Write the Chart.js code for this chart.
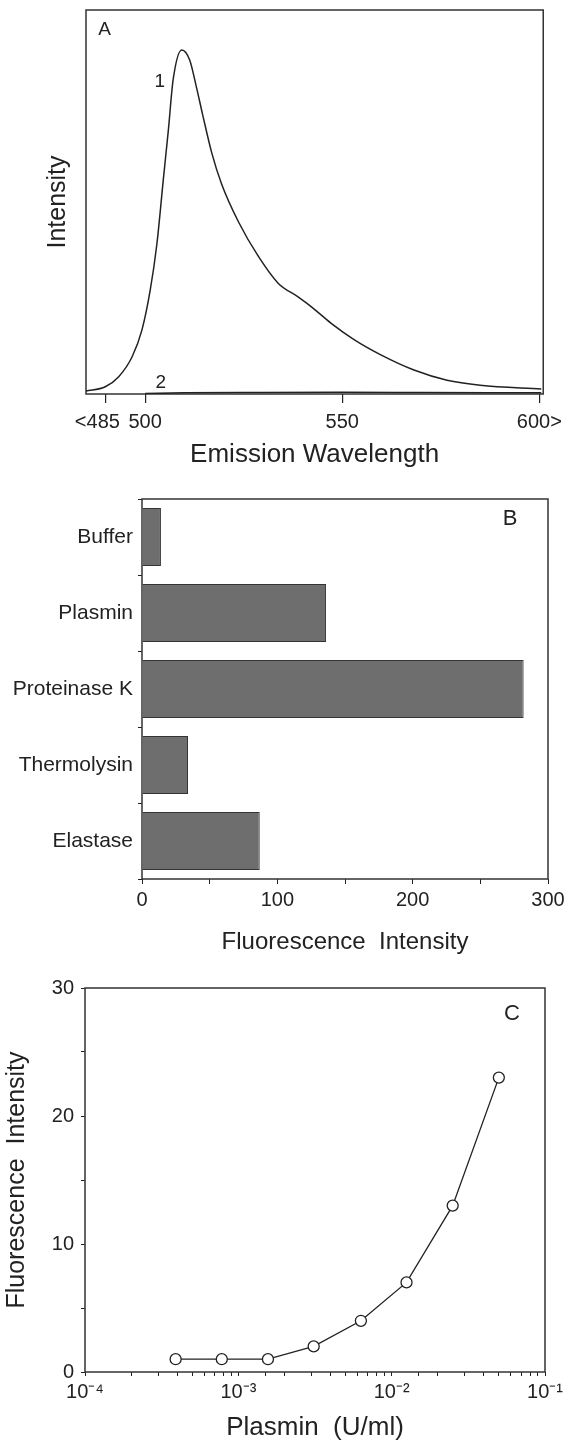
<!DOCTYPE html>
<html>
<head>
<meta charset="utf-8">
<script src="https://cdn.jsdelivr.net/npm/chart.js@4.4.1/dist/chart.umd.min.js"></script>
<style>
  body { margin: 0; background: #fff; }
  .wrap { position: relative; width: 569px; height: 1441px; }
  canvas { position: absolute; left: 0; }
</style>
</head>
<body>
<div class="wrap">
  <canvas id="chartA" width="569" height="480" style="top:0"></canvas>
  <canvas id="chartB" width="569" height="480" style="top:480px"></canvas>
  <canvas id="chartC" width="569" height="481" style="top:960px"></canvas>
</div>
<script>
// panel A - emission spectra
const waveTicks = [490, 500, 550, 600];
const waveTickLabels = ['<485   ', '500', '550', '600>'];
const wave1 = [485, 489.9, 493.3, 496.7, 499.2, 501.3, 503, 504.6, 505.9, 507.1, 509.3, 511.3, 513, 514.6, 516.9, 519.4, 523.7, 528.7, 533.8, 538.8, 542.2, 547.2, 553.1, 559.8, 568.2, 576.6, 585, 600.5];
const intensity1 = [0.8, 1.9, 4.5, 9.7, 16.7, 27.1, 39.2, 55.7, 68.8, 81.8, 89.6, 87, 80, 72.7, 62.8, 54.7, 44.8, 35.9, 28.8, 25.3, 22.7, 18.4, 14.1, 10.2, 6.25, 3.6, 2.3, 1.3];
const wave2 = [500, 510, 530, 550, 570, 600.5];
const intensity2 = [0.1, 0.3, 0.4, 0.45, 0.4, 0.3];

// panel B - proteases
const enzymes = ['Buffer', 'Plasmin', 'Proteinase K', 'Thermolysin', 'Elastase'];
const enzymeFluor = [14, 136, 282, 34, 87];

// panel C - plasmin dose response
const plasminDose = [0.00039, 0.00078, 0.00156, 0.0031, 0.0063, 0.0125, 0.025, 0.05];
const plasminFluor = [1, 1, 1, 2, 4, 7, 13, 23];

const FONT = "'Liberation Sans', Arial, Helvetica, sans-serif";
const INK = '#222';
Chart.defaults.font.family = FONT;
Chart.defaults.color = INK;

const framePlugin = {
  id: 'frame',
  beforeDatasetsDraw(chart) {
    const { ctx, chartArea: a } = chart;
    ctx.save();
    ctx.strokeStyle = '#333';
    ctx.lineWidth = 1.5;
    ctx.strokeRect(a.left, a.top, a.right - a.left, a.bottom - a.top);
    ctx.restore();
  }
};

const textPlugin = {
  id: 'panelText',
  afterDatasetsDraw(chart, args, opts) {
    const ctx = chart.ctx;
    ctx.save();
    ctx.fillStyle = INK;
    ctx.textAlign = 'center';
    ctx.textBaseline = 'middle';
    (opts.items || []).forEach(it => {
      ctx.font = it.size + 'px ' + FONT;
      ctx.fillText(it.text, chart.scales.x.getPixelForValue(it.x), chart.scales.y.getPixelForValue(it.y));
    });
    ctx.restore();
  }
};

const toPoints = (xs, ys) => xs.map((x, i) => ({ x: x, y: ys[i] }));

new Chart(document.getElementById('chartA'), {
  type: 'line',
  data: {
    datasets: [
      { data: toPoints(wave1, intensity1), borderColor: INK, borderWidth: 1.5, pointRadius: 0, cubicInterpolationMode: 'monotone' },
      { data: toPoints(wave2, intensity2), borderColor: INK, borderWidth: 1.5, pointRadius: 0, cubicInterpolationMode: 'monotone' }
    ]
  },
  options: {
    responsive: false,
    animation: false,
    devicePixelRatio: 1,
    layout: { padding: { top: 10, right: 21, left: 0, bottom: 0 } },
    plugins: {
      legend: { display: false },
      tooltip: { enabled: false },
      panelText: { items: [
        { text: 'A', x: 489.7, y: 94.8, size: 19 },
        { text: '1', x: 503.7, y: 81.3, size: 19 },
        { text: '2', x: 504, y: 2.8, size: 19 }
      ] }
    },
    scales: {
      x: {
        type: 'linear', min: 485, max: 601,
        afterBuildTicks: s => { s.ticks = waveTicks.map(v => ({ value: v })); },
        afterFit: s => { s.height = 86; },
        border: { display: false },
        grid: { drawOnChartArea: false, tickLength: 9, color: INK, lineWidth: 1.2 },
        ticks: { font: { size: 20 }, padding: 7, maxRotation: 0, autoSkip: false,
          callback: v => waveTickLabels[waveTicks.indexOf(v)] },
        title: { display: true, text: 'Emission Wavelength', font: { size: 26, lineHeight: 1 }, padding: { top: 0, bottom: 12 } }
      },
      y: {
        min: 0, max: 100,
        afterFit: s => { s.width = 86; },
        border: { display: false },
        grid: { display: false },
        ticks: { display: false },
        title: { display: true, text: 'Intensity', font: { size: 25, lineHeight: 1 }, padding: { top: 46, bottom: 0 } }
      }
    }
  },
  plugins: [framePlugin, textPlugin]
});

new Chart(document.getElementById('chartB'), {
  type: 'bar',
  data: {
    labels: enzymes,
    datasets: [{ data: enzymeFluor, backgroundColor: '#6e6e6e', borderColor: '#333', borderWidth: 1,
      barPercentage: 0.763, categoryPercentage: 1 }]
  },
  options: {
    indexAxis: 'y',
    responsive: false,
    animation: false,
    devicePixelRatio: 1,
    layout: { padding: { top: 19, right: 21, left: 0, bottom: 0 } },
    plugins: {
      legend: { display: false },
      tooltip: { enabled: false },
      panelText: { items: [{ text: 'B', x: 272, y: -0.24, size: 22 }] }
    },
    scales: {
      x: {
        min: 0, max: 300,
        afterFit: s => { s.height = 81; },
        border: { display: false },
        grid: { drawOnChartArea: false, tickLength: 5, color: INK },
        ticks: { stepSize: 50, font: { size: 20 }, padding: 4, maxRotation: 0,
          callback: v => (v % 100 === 0 ? String(v) : '') },
        title: { display: true, text: 'Fluorescence  Intensity', font: { size: 24, lineHeight: 1 }, padding: { top: 0, bottom: 6 } }
      },
      y: {
        afterFit: s => { s.width = 142; },
        border: { display: false },
        grid: { drawOnChartArea: false, tickLength: 4, color: INK },
        ticks: { font: { size: 21 }, padding: 5 }
      }
    }
  },
  plugins: [framePlugin, textPlugin]
});

const supMap = { '-': '\u207B', '0': '\u2070', '1': '\u00B9', '2': '\u00B2', '3': '\u00B3', '4': '\u2074', '5': '\u2075', '6': '\u2076', '7': '\u2077', '8': '\u2078', '9': '\u2079' };
const powerLabel = v => {
  const e = Math.log10(v);
  const r = Math.round(e);
  if (Math.abs(e - r) > 1e-6) return '';
  return '10' + String(r).split('').map(c => supMap[c]).join('');
};

new Chart(document.getElementById('chartC'), {
  type: 'line',
  data: {
    datasets: [{ data: toPoints(plasminDose, plasminFluor), borderColor: INK, borderWidth: 1.3, tension: 0,
      pointRadius: 5.5, pointBackgroundColor: '#fff', pointBorderColor: INK, pointBorderWidth: 1.3 }]
  },
  options: {
    responsive: false,
    animation: false,
    devicePixelRatio: 1,
    layout: { padding: { top: 28, right: 24, left: 0, bottom: 0 } },
    plugins: {
      legend: { display: false },
      tooltip: { enabled: false },
      panelText: { items: [{ text: 'C', x: 0.0608, y: 28, size: 22 }] }
    },
    scales: {
      x: {
        type: 'logarithmic', min: 0.0001, max: 0.1,
        afterFit: s => { s.height = 69; },
        border: { display: false },
        grid: { drawOnChartArea: false, tickLength: 4, color: INK },
        ticks: { font: { size: 20 }, padding: 4, maxRotation: 0, autoSkip: false, callback: v => powerLabel(v) },
        title: { display: true, text: 'Plasmin  (U/ml)', font: { size: 26, lineHeight: 1 }, padding: { top: 0, bottom: 0 } }
      },
      y: {
        min: 0, max: 30,
        afterFit: s => { s.width = 85; },
        border: { display: false },
        grid: { drawOnChartArea: false, tickLength: 4, color: INK },
        ticks: { stepSize: 5, font: { size: 20 }, padding: 7, callback: v => (v % 10 === 0 ? String(v) : '') },
        title: { display: true, text: 'Fluorescence  Intensity', font: { size: 25, lineHeight: 1 }, padding: { top: 5, bottom: 0 } }
      }
    }
  },
  plugins: [framePlugin, textPlugin]
});
</script>
</body>
</html>
